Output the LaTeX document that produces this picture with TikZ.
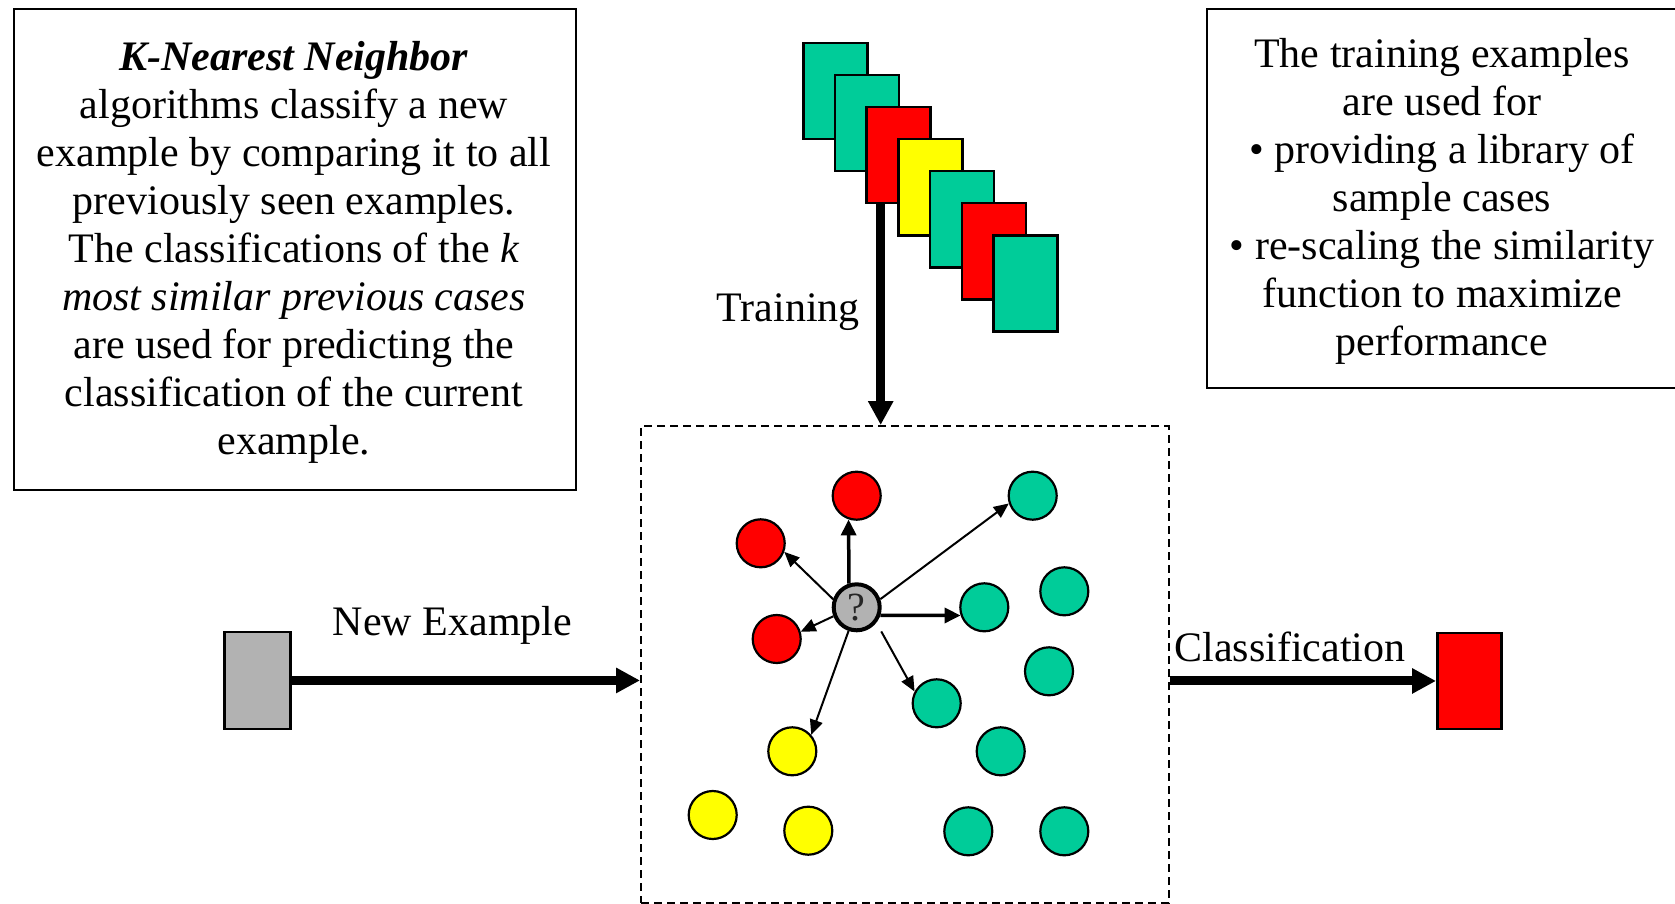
\documentclass[tikz,border=0pt]{standalone}
\usepackage{fontspec}
\setmainfont{Liberation Serif}
\usetikzlibrary{arrows.meta}
\definecolor{knngreen}{RGB}{0,204,153}
\definecolor{knnred}{RGB}{255,0,0}
\definecolor{knnyellow}{RGB}{255,255,0}
\definecolor{knngray}{RGB}{178,178,178}
\begin{document}
\begin{tikzpicture}[x=1pt,y=-1pt,
  textbox/.style={draw=black, line width=2pt, inner sep=0pt},
  boxtext/.style={align=center, inner sep=0pt, font=\fontsize{42}{48}\selectfont},
  lbl/.style={inner sep=0pt, font=\fontsize{42}{48}\selectfont},
  card/.style={draw=black, line width=2.5pt, minimum width=64pt, minimum height=96pt, inner sep=0pt},
  dot/.style={circle, draw=black, line width=2.2pt, minimum size=48pt, inner sep=0pt},
  qdot/.style={circle, draw=black, line width=4pt, fill=knngray, minimum size=46pt, inner sep=0pt,
    font=\fontsize{40}{40}\selectfont, text=black!85},
  block/.style={draw=black, line width=2.5pt, inner sep=0pt},
  dashbox/.style={draw=black, line width=2pt, dash pattern=on 8pt off 5pt, inner sep=0pt},
  bigarrow/.style={line width=9pt, -{Triangle[length=24pt,width=24pt]}},
  medarrow/.style={line width=3.5pt, -{Triangle[length=16pt,width=15pt]}},
  thinarrow/.style={line width=2pt, -{Triangle[length=15pt,width=13pt]}}
]
\useasboundingbox (0,0) rectangle (1675,904);

% text boxes
\node[textbox, minimum width=562pt, minimum height=481pt, anchor=north west] (desc) at (13,8) {};
\node[boxtext] (desctext) at (294,252)
  {\textbf{\textit{K-Nearest Neighbor}}\\ algorithms classify a new\\ example by comparing it to all\\
   previously seen examples.\\ The classifications of the \textit{k}\\ \textit{most similar previous cases}\\
   are used for predicting the\\ classification of the current\\ example.};
\node[textbox, minimum width=472pt, minimum height=379pt, anchor=north west] (uses) at (1206,8) {};
\node[boxtext] (usestext) at (1442,201)
  {The training examples\\ are used for\\ • providing a library of\\ sample cases\\
   • re-scaling the similarity\\ function to maximize\\ performance};

% training cards
\foreach \i/\c in {0/knngreen,1/knngreen,2/knnred,3/knnyellow,4/knngreen,5/knnred,6/knngreen}
  \node[card, fill=\c, anchor=north west] (card\i) at ({802+\i*31.7},{42+\i*32}) {};

% dashed classifier box
\node[dashbox, minimum width=527.5pt, minimum height=477pt, anchor=north west] (knn) at (640,425) {};

% training arrow
\coordinate (tstart) at (880.7,202);
\draw[bigarrow] (tstart) -- (tstart |- knn.north);
\node[lbl, anchor=base east] (trlbl) at (860,321.7) {Training};

% new example and classification
\node[block, fill=knngray, minimum width=66pt, minimum height=97pt, anchor=north west] (newex) at (223.3,630.7) {};
\node[block, fill=knnred, minimum width=64pt, minimum height=96pt, anchor=north west] (result) at (1436,631.7) {};
\draw[bigarrow] (newex.east) -- (newex.east -| knn.west);
\draw[bigarrow] (knn.east |- result.west) -- (result.west);
\node[lbl, anchor=base] (nelbl) at (452.5,635) {New Example};
\node[lbl, anchor=base] (cllbl) at (1290,661.7) {Classification};

% instances
\node[dot, fill=knnred] (r1) at (856.7,495.7) {};
\node[dot, fill=knnred] (r2) at (760.7,543.3) {};
\node[dot, fill=knnred] (r3) at (776.7,639) {};
\node[dot, fill=knngreen] (g1) at (1032.7,495.7) {};
\node[dot, fill=knngreen] (g2) at (984.3,607.3) {};
\node[dot, fill=knngreen] (g3) at (1064.3,591.3) {};
\node[dot, fill=knngreen] (g4) at (1049,671.3) {};
\node[dot, fill=knngreen] (g5) at (936.7,703.3) {};
\node[dot, fill=knngreen] (g6) at (1000.7,751.3) {};
\node[dot, fill=knngreen] (g7) at (968.3,831.3) {};
\node[dot, fill=knngreen] (g8) at (1064.3,831.3) {};
\node[dot, fill=knnyellow] (y1) at (792.3,751.3) {};
\node[dot, fill=knnyellow] (y2) at (712.7,815) {};
\node[dot, fill=knnyellow] (y3) at (808.3,830.7) {};
\node[qdot] (q) at (856.7,607.3) {?};

% neighbour arrows
\draw[medarrow] (q.108.6) -- (r1.251.7);
\draw[thinarrow] (q.161.6) -- (r2.-20.3);
\draw[thinarrow] (q.201.4) -- (r3.17.1);
\draw[thinarrow] (q.19.6) -- (g1.198.8);
\draw[medarrow] (q.-19.4) -- (g2.199);
\draw[thinarrow, shorten <=10pt] (q.-38.4) -- (g5.152.6);
\draw[thinarrow] (q.251.4) -- (y1.41.7);
\end{tikzpicture}
\end{document}
